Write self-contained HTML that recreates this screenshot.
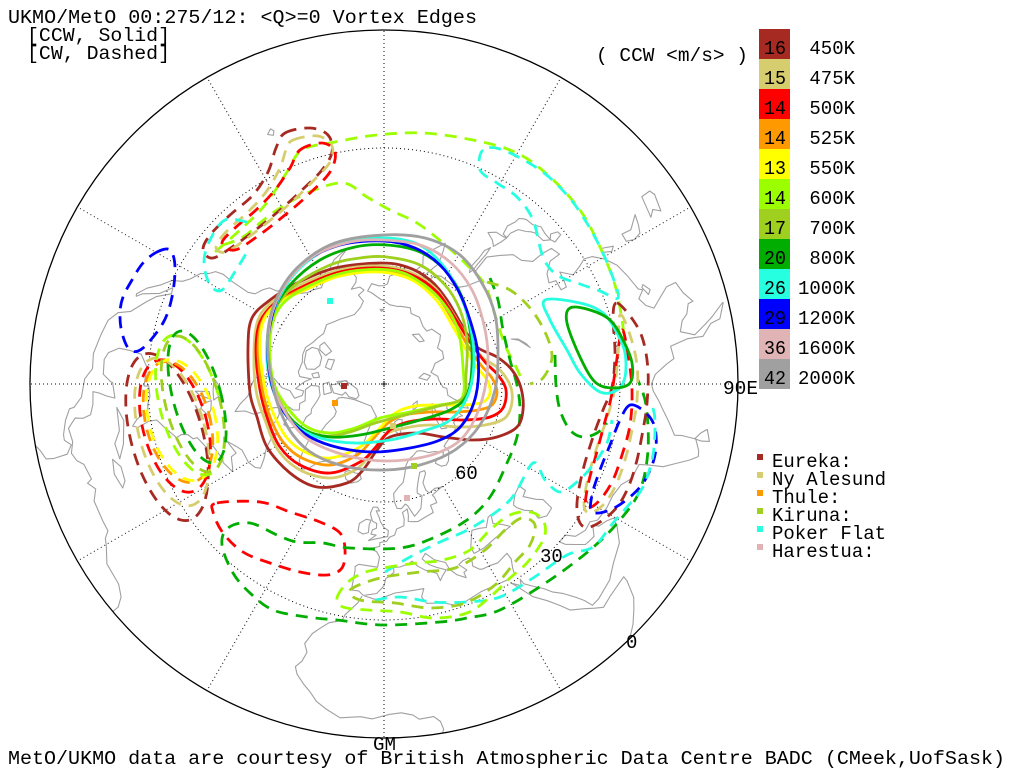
<!DOCTYPE html>
<html><head><meta charset="utf-8"><style>
html,body{margin:0;padding:0;background:#fff;width:1016px;height:768px;overflow:hidden}
svg{display:block}
text{font-family:"Liberation Mono","DejaVu Sans Mono",monospace;font-size:19px;fill:#000}
</style></head><body>
<svg id="s" width="1016" height="768" viewBox="0 0 1016 768" xmlns="http://www.w3.org/2000/svg">
<defs><clipPath id="cp"><circle cx="384" cy="384" r="354"/></clipPath></defs>
<rect width="1016" height="768" fill="#fff"/>
<g id="coast" clip-path="url(#cp)" fill="none" stroke="#a0a0a0" stroke-width="1.1" stroke-linejoin="round"></g>
<g id="grid" fill="none" stroke="#000" stroke-width="1" stroke-dasharray="1,3"></g>
<circle cx="384" cy="384" r="354" fill="none" stroke="#000" stroke-width="1.3"/>
<g id="cont" clip-path="url(#cp)" fill="none" stroke-width="2.8" stroke-linejoin="round" stroke-linecap="butt"></g>
<g id="stn"></g>
<path d="M381,384H387M384,381V387" stroke="#000" stroke-width="1"/>

<text x="8" y="23" textLength="469" lengthAdjust="spacingAndGlyphs">UKMO/MetO 00:275/12: &lt;Q&gt;=0 Vortex Edges</text>
<text x="27" y="41" textLength="143" lengthAdjust="spacingAndGlyphs">[CCW, Solid]</text>
<text x="27" y="59" textLength="143" lengthAdjust="spacingAndGlyphs">[CW, Dashed]</text>
<text x="596" y="61" textLength="152" lengthAdjust="spacingAndGlyphs" xml:space="preserve">( CCW &lt;m/s&gt; )</text>

<g id="leg"></g>

<text x="455" y="479">60</text>
<text x="540" y="562">30</text>
<text x="626" y="648">0</text>
<text x="723" y="394" textLength="35" lengthAdjust="spacingAndGlyphs">90E</text>
<text x="373" y="750" textLength="23" lengthAdjust="spacingAndGlyphs">GM</text>

<rect x="757" y="454" width="6" height="6" fill="#a62a22"/>
<rect x="757" y="472" width="6" height="6" fill="#d6cd6e"/>
<rect x="757" y="490" width="6" height="6" fill="#ff9900"/>
<rect x="757" y="508" width="6" height="6" fill="#9fcf1f"/>
<rect x="757" y="526" width="6" height="6" fill="#26ffe0"/>
<rect x="757" y="544" width="6" height="6" fill="#e0b4b4"/>
<text x="772" y="467">Eureka:</text>
<text x="772" y="485">Ny Alesund</text>
<text x="772" y="503">Thule:</text>
<text x="772" y="521">Kiruna:</text>
<text x="772" y="539">Poker Flat</text>
<text x="772" y="557">Harestua:</text>

<text x="8" y="764" textLength="997" lengthAdjust="spacingAndGlyphs">MetO/UKMO data are courtesy of British Atmospheric Data Centre BADC (CMeek,UofSask)</text>
</svg>
<script>
(function(){
var NS="http://www.w3.org/2000/svg";
var C=384,R=354;
function el(tag,attrs,parent){var e=document.createElementNS(NS,tag);for(var k in attrs)e.setAttribute(k,attrs[k]);parent.appendChild(e);return e;}
function proj(lon,lat){var r=R*(90-lat)/90,a=lon*Math.PI/180;return [C+r*Math.sin(a),C+r*Math.cos(a)];}
function lineLL(arr,closed){var d="";for(var i=0;i<arr.length;i++){var p=proj(arr[i][0],arr[i][1]);d+=(i?"L":"M")+p[0].toFixed(1)+","+p[1].toFixed(1);}if(closed)d+="Z";return d;}

var coast=[
[[-80,0],[-79,1],[-77.5,2],[-77.3,4],[-77.5,7.5],[-79,9],[-80,7.5],[-81,7.5],[-83.5,8.5],[-85.5,9.8],[-85.7,11],[-87.5,13],[-91,13.9],[-93,15.8],[-96,15.7],[-100,17],[-103,18],[-105,20],[-106,23],[-109,26],[-111,28],[-113,31.3],[-114.5,31],[-112,28.5],[-110.5,24.5],[-109.5,23.2],[-110,23],[-112,25],[-114,28],[-116,30],[-117,32.5],[-118.5,34],[-121,35.5],[-122.4,37.5],[-123.7,38.5],[-124.3,40.5],[-124,43],[-124,46],[-124,48.3],[-125,50],[-128,51],[-130,52],[-131,54],[-133,55],[-135,57],[-137,58.5],[-140,59.7],[-143,60],[-147,60.8],[-150,59.5],[-152,58],[-155,57.5],[-158,56],[-162,55],[-164.5,54.5],[-161,56],[-157.5,58.5],[-162,58.6],[-164,60.5],[-165.5,62],[-164.5,63.2],[-161,64.5],[-166,64.6],[-168,65.6],[-164,66.5],[-166,68.3],[-163,69.6],[-157,70.8],[-152,70.6],[-146,70.1],[-141,69.7],[-136,69],[-130,70],[-125,69.5],[-120,69],[-115,68],[-110,68],[-105,68.5],[-98,68],[-95,68.5],[-94,71.5],[-92,70],[-90,69],[-87,67.5],[-85,69.5],[-82,69],[-81,67],[-86,66],[-88,64],[-93,62],[-94,59],[-92.5,57],[-88,56],[-85,55.3],[-82,53],[-79.5,51.5],[-79,54],[-77,56],[-77,58],[-78,60.5],[-77.5,62.5],[-74,62.3],[-71,61],[-69.5,59],[-67,58.5],[-65,60],[-64,58],[-61.5,56],[-58,54],[-55.7,52],[-57,51],[-60,50.2],[-65,50.2],[-67,49.3],[-70,47.5],[-65,48.5],[-64.5,47],[-61,46],[-60,45.5],[-64,44.5],[-66,45],[-66.5,44.5],[-70,43.8],[-70.5,42],[-74,40.6],[-74,39.5],[-75.5,38.5],[-76,37],[-75.5,35.5],[-77,34.5],[-79,33],[-81,31.5],[-81,29.5],[-80,26.5],[-80.5,25.2],[-81.8,26.5],[-82.7,28],[-83,29.5],[-85,29.7],[-87,30.4],[-89.5,30.2],[-89.5,29],[-91,29.2],[-94,29.6],[-97,27.8],[-97.5,25],[-97.7,22],[-96.5,19.5],[-95,18.6],[-92,18.6],[-90.5,20.5],[-90.3,21],[-87,21.5],[-87.5,19.5],[-88.2,17.5],[-88.5,16],[-86,15.8],[-84,15],[-83.5,13],[-83.7,11],[-82,9],[-79.5,9.5],[-77.5,8.6],[-76,9.5],[-75,11],[-72,11.8],[-71.5,10.5],[-70,12],[-68,10.5],[-64,10.5],[-62,10.5],[-61,9],[-59.8,8.3],[-57,6],[-53,5.5],[-51,4],[-50,1.8],[-50,-1]],
[[-5.6,36],[-7,37],[-9,37],[-8.8,42],[-9,43],[-8,43.7],[-2,43.4],[-1.5,46],[-2.5,47.3],[-4.7,48],[-1.5,48.7],[-1.5,49.7],[1,50],[2,51],[4,51.5],[5,53],[8,53.6],[8.5,55.3],[8.2,57],[10.5,57.7],[10.5,56],[10,54.5],[12,54.2],[14,54],[18,54.7],[21,55],[21,57],[24,57],[24,58.5],[23.5,59.2],[29,60],[26,60.5],[22.5,60],[21.5,61],[21.5,63],[25,65],[25,65.7],[22,65.8],[19,63.5],[17.5,62],[17,61],[18.8,60],[16.5,57],[14.3,56],[13,55.5],[11,58.5],[10,59],[8,58],[6,58.2],[5,60],[5,62],[8,63.5],[11,64.5],[13,66.5],[15,68.5],[18,69.8],[22,70.3],[26,71],[29,70.6],[31,70],[33,69.2],[37,68.5],[41,67],[38.5,66],[34.5,66.5],[33,66],[35,64.5],[37.5,64],[40,64.5],[44,66.3],[44,68],[46,68.2],[53,68.5],[55,68.4],[59,68.7],[61,69.8],[66,69.3],[68,68.5],[69,70],[67,71.5],[69,73],[72,72.8],[72.5,71],[74,67.7],[76,68.5],[78,72],[80,73.5],[86,74],[87,75],[94,76],[98,76.2],[104,77.7],[107,77],[112,76],[113,73.5],[119,73],[124,73.6],[128,72],[131,71],[139,71.5],[141,72.7],[146,72.3],[152,70.8],[159,70.8],[161,69.5],[168,69.8],[170,70],[176,69.8],[180,68.8],[182,68.5],[188,66.5],[190,66],[187,64.3],[183,65],[180,65],[178,64.5],[177,62.5],[173,61.7],[170,60],[164,59.8],[162,58],[163,56],[160.5,54],[156.5,51],[156,53],[155.5,56.5],[156.6,57.5],[160,61],[157,61.7],[155,59.5],[152,59],[148,59.3],[143,59.3],[140,57.5],[137,54],[141,53],[141,48.5],[138,46],[135,43.5],[132,43],[129.5,41],[129.5,38],[129,35.2],[126.5,34.5],[126.5,37.5],[125,39],[124,40],[121.5,40.8],[121,39],[118,39],[118,37.5],[120,37.2],[122.5,37],[120,34.5],[121,32],[122,30],[121.5,28],[119.5,25.5],[117,23.5],[114,22.3],[110.5,21],[110,20],[108.5,21.7],[106.7,20.5],[105.7,18.7],[107,17],[109,14],[109.2,11.5],[107,10.5],[105,8.7],[104.8,10],[103,11],[102,12.5],[100,13.5],[99,10],[100.5,7],[101.5,5],[103.5,1.5],[103.5,1.3],[101,3],[100.5,5.5],[98.5,8],[98.5,12],[97.5,16.5],[95,16],[94,18],[92,21],[90,22],[88.5,21.5],[86.5,20],[85,19],[82.5,17],[80,15],[80.2,13],[80,9.5],[78,8.2],[77,8],[76,10],[74.8,13],[73.5,16],[73,19.5],[72.7,21],[72.5,22],[70,22.5],[69,22.7],[67,24.5],[64,25.3],[61,25.2],[57.5,25.6],[56.2,27],[54,26.7],[51.5,27.8],[50.2,30],[48,30],[48.5,28.5],[50,26.5],[51.5,24.5],[54,24],[56,26],[56.5,24.5],[58.5,23.5],[59.8,22.3],[58.5,20.5],[56,17.8],[52,16],[49,14],[45,12.8],[43.3,12.7],[42.8,15],[42,17],[40.5,20],[39,22],[38,24],[36.5,26],[35,28],[34.9,29.5],[34.2,28],[32.6,29.9]],
[[-5.6,36],[-2,36.7],[0,38.7],[0.5,40.5],[3,42],[3,43.3],[5,43.3],[7.5,43.8],[9,44.4],[10.5,42.9],[12.5,41.5],[15.6,40],[16,38],[17,39],[18.5,40.2],[16,41.5],[14,42.7],[12.3,44.5],[13.7,45.7],[14.5,45],[16,43.5],[19,42],[19.5,40],[21,38],[23,36.5],[23,38],[24,38.2],[22.5,40.3],[24,40.8],[26,40.8],[26.5,40],[26,38.5],[27.3,37],[28,36.7],[30.5,36.5],[32.5,36.1],[36,36.8],[36,35],[35,33],[34.5,31.5],[32.5,31.1],[30,31.4],[25,31.7],[20,30.8],[19,30.3],[15.2,32.3],[11,33.2],[10,35],[11,37],[8,37],[3,36.8],[0,35.8],[-2,35.1],[-5.3,35.9]],
[[28,41.2],[28,43],[29.8,45.3],[31,46.6],[33.5,46],[35.5,45.2],[38,47],[39.3,47.1],[38,45],[40,43.4],[41.6,41.6],[36,41.7],[31.5,41.2],[29,41.2],[28,41.2]],
[[47,45],[50,46.5],[53,47],[53,45],[51,44.5],[52.8,41.5],[54,40],[53.5,37],[51,36.7],[49,38],[49.5,40.4],[48,42],[47,44],[47,45]],
[[32.6,29.9],[33.5,28],[35,24],[37,21],[38.5,18],[39.5,15.5],[41.7,13.5],[43.2,11.8],[44.5,10.4],[47,11.2],[51.2,11.8],[51,10.5],[49.5,6.5],[48,4.5],[46,2],[43,-1]],
[[-5.9,35.8],[-6.8,34],[-9.6,30.5],[-10,29],[-13,27.7],[-14.5,26],[-16,24],[-17,21],[-16,19],[-16.5,16.5],[-17.4,14.7],[-16.7,13],[-15,11],[-13.5,9.5],[-12,7.5],[-10,6],[-7.5,4.4],[-4,5.2],[-2,4.8],[1,6],[3,6.3],[5,5.5],[6,4.3],[8.5,4.5],[9.5,3],[9.8,1],[9.3,-1]]
];
var closedC=[
[[-73,78],[-70,76.5],[-66,76],[-60,76],[-57,75],[-55,72],[-53,70],[-51,68],[-53,66],[-50,63],[-48,61],[-44,60],[-42,61],[-40,64],[-37,65.5],[-33,68],[-25,69.5],[-22,70.5],[-22,72.5],[-19,74],[-19,77],[-18,80],[-13,81.5],[-20,82.5],[-30,83.5],[-45,83],[-58,82],[-62,81.5],[-67,80.5],[-72,79]],
[[-80,73.5],[-76,72.5],[-71,70.5],[-68,70],[-67,68.5],[-63,66.5],[-62,66],[-64,65],[-65,63.5],[-68,62.5],[-72,64.5],[-76,64.2],[-78,64.5],[-74,66],[-73,67.5],[-77,68],[-78,69.5],[-82,69.8],[-86,70],[-89,71.5],[-88,73.5],[-85,73.5]],
[[-78,80],[-75,79],[-80,77],[-89,76.5],[-90,78],[-95,80],[-90,81.5],[-80,83],[-65,83],[-62,82],[-70,80.5]],
[[-118,71],[-113,72.8],[-106,73],[-102,72],[-101,70],[-105,69],[-113,68.5],[-117,69.5]],
[[-125,71.5],[-122,74.3],[-116,73.5],[-118,71.5],[-121,71]],
[[-92,76],[-81,76.5],[-80,74.5],[-90,74.5]],
[[-95,80.5],[-88,81],[-87,79],[-93,78]],
[[-116,76],[-105,76],[-106,74.5],[-114,74.5]],
[[-100,73],[-96,73.5],[-95,72],[-98,71.5]],
[[-22,64],[-24,65.5],[-22,66.3],[-18,66.2],[-15,66.4],[-13.5,65.2],[-15,64.3],[-18.5,63.4]],
[[-5.7,50],[-3,50.6],[1.4,51.2],[1.7,52.7],[0,53.5],[-1.5,55],[-2,56],[-3.5,57.7],[-2,57.7],[-3,58.6],[-5,58.6],[-6,57],[-5.5,56],[-4.8,55],[-3,54.5],[-3,53.3],[-4.5,52.8],[-5,51.7],[-3,51.5]],
[[-6,52],[-6,54],[-5.5,55.2],[-7.5,55.3],[-10,54],[-10,52],[-8,51.5]],
[[80,6],[82,7],[81.2,8.5],[80,9.8],[79.8,8]],
[[130.9,34],[132,35.5],[135,35.7],[136,36.2],[137,37],[139,38],[140,40],[140,41.4],[141.5,41.3],[142,39],[141,37],[140.8,35.7],[139.8,35],[139,34.7],[137,34.6],[135,33.5],[133,34]],
[[140,41.5],[140.5,43.2],[141.5,45.3],[143,44.2],[145.5,43.3],[143.5,42],[141,41.8]],
[[129.7,33.5],[131,34],[132,33],[131.2,31.3],[130.2,31.2]],
[[142,46],[143,47.5],[143,50],[143.5,53],[142.5,54.3],[142,53],[142,51],[141.8,48]],
[[120.2,23],[121,25],[122,25],[121,22]],
[[108.7,19],[110.5,20],[111,19.5],[109.5,18.2]],
[[120,16.5],[120.5,18.5],[122.2,18.5],[122,16],[124,13],[122,13.7],[120.5,14.5]],
[[122,10],[126,9],[126,6.5],[125,6],[122,7],[123,8.5]],
[[-85,21.8],[-82,23.2],[-77,22],[-74.2,20.2],[-77.5,19.9],[-80,21.7]],
[[-74.5,18.4],[-72.5,19.9],[-69.5,19.7],[-68.3,18.5],[-71.5,17.7]],
[[11,78.5],[16,80],[22,80.3],[27,79.8],[22,78],[17,76.5],[14,77.5]],
[[52,71.5],[55,73.5],[58,75.5],[68,76.8],[62,75],[57,72],[55,70.5]],
[[95,79],[100,81],[105,79.5],[100,78]],
[[137,75],[140,76],[150,75.5],[145,74.5]],
[[48,80],[55,81],[63,80.5],[55,79.8]],
[[-92,46.7],[-89.5,48],[-86.5,48.7],[-84.6,46.5],[-87.5,46.5]],
[[-87.8,42],[-87.5,45.5],[-85,45.8],[-86.5,43]],
[[-84.5,45.9],[-81.5,45.5],[-80,44.5],[-82.5,43],[-84,44]],
[[-83.5,41.7],[-79,42.8],[-80,42.5],[-83,42]],
[[104,51.7],[106,52.5],[108.5,54],[109.5,55.7],[108,54],[105,52.3]],
[[-156,19],[-155,20],[-156,20.8],[-156.5,19.8]],
[[-178,71.5],[-177,71],[180,71]]
];
var cg=document.getElementById("coast");
coast.forEach(function(a){el("path",{d:lineLL(a,false)},cg);});
closedC.forEach(function(a){el("path",{d:lineLL(a,true)},cg);});

// grid
var g=document.getElementById("grid");
el("circle",{cx:C,cy:C,r:118},g);
el("circle",{cx:C,cy:C,r:236},g);
for(var lon=0;lon<360;lon+=30){
  var a=lon*Math.PI/180, r0=(lon%90==0)?0:118;
  el("line",{x1:C+r0*Math.sin(a),y1:C+r0*Math.cos(a),x2:C+R*Math.sin(a),y2:C+R*Math.cos(a)},g);
}

// smoothing
function cr(p,closed){
  var n=p.length,d="M"+p[0][0].toFixed(1)+","+p[0][1].toFixed(1);
  function get(i){return closed?p[(i+n)%n]:p[Math.max(0,Math.min(n-1,i))];}
  var m=closed?n:n-1;
  for(var i=0;i<m;i++){
    var p0=get(i-1),p1=get(i),p2=get(i+1),p3=get(i+2);
    var c1=[p1[0]+(p2[0]-p0[0])/6,p1[1]+(p2[1]-p0[1])/6];
    var c2=[p2[0]-(p3[0]-p1[0])/6,p2[1]-(p3[1]-p1[1])/6];
    d+="C"+c1[0].toFixed(1)+","+c1[1].toFixed(1)+" "+c2[0].toFixed(1)+","+c2[1].toFixed(1)+" "+p2[0].toFixed(1)+","+p2[1].toFixed(1);
  }
  if(closed)d+="Z";
  return d;
}
function ell(cx,cy,rx,ry,t){var a=t*Math.PI/180,pts=[];for(var i=0;i<18;i++){var u=2*Math.PI*i/18,x=rx*Math.cos(u),y=ry*Math.sin(u);pts.push([cx+x*Math.cos(a)-y*Math.sin(a),cy+x*Math.sin(a)+y*Math.cos(a)]);}return pts;}

var K={b:"#a62a22",t:"#d6cd6e",r:"#ff0000",o:"#ff9900",y:"#ffff00",lg:"#9cff00",ol:"#9fcf1f",g:"#00ad00",c:"#26ffe0",bl:"#0000ff",p:"#e0b4b4",gr:"#a0a0a0"};
var cont=document.getElementById("cont");
function add(col,pts,closed,dashed){var at={d:cr(pts,closed),stroke:col};if(dashed)at["stroke-dasharray"]="12,8";el("path",at,cont);}

// ---- dashed contours ----
// top-left loops
add(K.lg,[[215,252],[240,230],[265,205],[287,172],[302,150],[335,142],[377,135],[423,133],[473,140],[517,153],[550,177],[580,210],[600,247],[615,285],[622,320],[625,345]],false,true);
add(K.lg,[[223,245],[243,237],[260,223],[277,210],[307,193],[343,183],[367,197],[390,210],[417,223],[443,243],[467,265],[485,285],[495,315],[505,345],[515,365],[523,382]],false,true);
add(K.b,[[285,133],[310,128],[328,135],[332,152],[322,170],[302,190],[280,210],[258,228],[235,245],[213,258],[203,250],[210,235],[230,215],[253,195],[268,172],[276,148]],true,true);
add(K.t,[[293,140],[318,136],[332,146],[330,162],[316,178],[296,198],[273,218],[250,236],[226,252],[216,247],[226,232],[248,212],[266,192],[280,168],[286,150]],true,true);
add(K.r,[[300,150],[322,143],[335,152],[330,172],[308,195],[285,215],[258,236],[235,250],[222,243],[235,228],[256,210],[275,190],[290,168]],true,true);
add(K.c,[[247,222],[225,220],[210,240],[204,262],[210,285],[222,290],[236,270],[247,252]],false,true);
// top-right cyan
add(K.c,[[483,150],[480,170],[497,183],[517,197],[533,220],[543,257],[557,275],[580,284],[600,291],[618,298],[612,275],[600,247],[585,220],[567,195],[540,170],[503,150]],true,true);
// left blue loop
add(K.bl,[[157,252],[170,250],[175,267],[172,297],[163,323],[143,348],[130,350],[122,333],[120,313],[123,297],[132,280],[143,263]],true,true);
// left nested group
[[K.b,167,437,36,86],[K.t,172,432,33,76],[K.r,175,426,32,68],[K.o,178,422,32,62],[K.y,182,420,33,62],[K.lg,190,405,30,72],[K.ol,193,404,27,70],[K.g,197,397,24,68]].forEach(function(q){add(q[0],ell(q[1],q[2],q[3],q[4],-15),true,true);});
// bottom-left red loop
add(K.r,[[217,503],[260,502],[290,512],[320,522],[340,533],[345,550],[342,568],[327,575],[300,572],[270,563],[243,552],[223,533],[213,512]],true,true);
// long green dashed
add(K.g,[[490,278],[498,300],[503,330],[510,360],[517,385],[520,410],[517,437],[507,463],[490,497],[467,520],[433,538],[400,548],[350,548],[323,543],[297,542],[277,535],[250,523],[228,528],[222,545],[233,573],[250,593],[273,610],[307,617],[337,620],[383,625],[440,622],[467,618],[500,610],[547,582],[590,550],[620,520],[640,490],[648,450],[646,405],[638,380]],false,true);
add(K.g,[[555,355],[556,385],[560,410],[570,430],[583,437],[597,433],[607,423]],false,true);
// right-middle olive / lightgreen
add(K.ol,[[487,282],[510,290],[530,308],[545,332],[552,357],[543,378],[530,384]],false,true);
// right group
add(K.b,[[617,303],[633,320],[643,340],[648,370],[647,403],[643,430],[637,460],[630,483],[620,503],[607,517],[590,527],[580,523],[577,503],[583,470],[593,437],[603,410],[612,387],[615,353],[613,317]],true,true);
add(K.t,[[620,315],[630,335],[637,365],[637,400],[632,430],[625,460],[615,487],[603,505],[590,513],[584,505],[588,478],[597,447],[607,418],[614,392],[618,355]],true,true);
add(K.r,[[622,330],[628,355],[632,390],[630,425],[622,455],[612,482],[598,502],[586,507],[588,485],[596,455],[604,425],[611,398],[616,365]],true,true);
add(K.bl,[[630,405],[645,412],[655,428],[655,455],[645,480],[630,497],[610,510],[592,512],[592,495],[600,470],[610,445],[620,420]],true,true);
// cyan bottom arcs
add(K.c,[[385,572],[410,557],[440,542],[473,527],[510,500],[533,463],[545,480],[560,492],[577,482],[593,465],[607,443],[612,420]],false,true);
add(K.c,[[375,600],[400,597],[433,602],[467,602],[500,597],[533,578],[567,555],[593,547],[613,523],[627,507],[643,487],[653,455],[655,420],[652,405]],false,true);
// bottom light green / olive loops
add(K.lg,[[337,598],[347,583],[363,573],[383,568],[417,563],[443,560],[470,550],[490,530],[510,515],[530,512],[543,520],[545,535],[537,550],[525,565],[510,578],[490,597],[467,613],[433,618],[400,612],[367,610],[343,607]],true,true);
add(K.ol,[[350,590],[380,578],[420,572],[455,568],[485,550],[505,530],[522,518],[535,525],[530,545],[515,562],[495,585],[465,603],[430,608],[395,603],[360,600]],true,true);

// ---- solid contours ----
add(K.c,[[545,300],[580,303],[603,313],[617,333],[625,353],[625,377],[617,390],[600,392],[580,373],[567,350],[550,320]],true,false);
add(K.g,[[570,308],[590,310],[610,320],[623,340],[632,363],[630,383],[613,388],[595,382],[580,357],[567,323]],true,false);

var vortex=[
[K.b,[[380,263],[407,267],[430,280],[447,300],[463,327],[477,347],[497,357],[512,370],[521,388],[523,410],[517,427],[497,437],[473,440],[443,437],[417,433],[390,437],[377,450],[363,470],[347,483],[317,487],[290,473],[267,447],[257,417],[250,393],[248,347],[252,318],[270,300],[297,283],[335,268]]],
[K.t,[[380,266],[410,272],[435,288],[452,312],[466,335],[482,357],[498,368],[510,385],[512,402],[505,418],[485,425],[460,427],[430,425],[405,428],[385,435],[370,455],[355,470],[330,478],[300,470],[278,450],[265,420],[256,390],[254,350],[258,320],[272,302],[300,285],[340,270]]],
[K.r,[[380,268],[412,275],[437,292],[455,318],[470,342],[485,362],[498,375],[506,390],[503,408],[490,417],[465,420],[435,419],[408,422],[390,430],[375,448],[360,462],[330,473],[300,465],[280,447],[268,420],[260,390],[256,350],[260,322],[275,303],[302,287],[340,272]]],
[K.o,[[380,270],[412,278],[437,296],[454,322],[468,346],[480,364],[492,378],[497,392],[492,405],[478,410],[455,412],[430,412],[405,415],[388,423],[372,440],[357,455],[330,465],[302,458],[283,442],[270,417],[262,388],[258,350],[262,322],[277,303],[304,288],[340,274]]],
[K.y,[[380,272],[412,280],[436,300],[452,325],[465,348],[476,366],[487,380],[490,393],[483,402],[465,405],[440,405],[415,406],[395,413],[378,430],[360,447],[330,458],[305,452],[287,438],[274,415],[265,388],[260,350],[263,322],[278,303],[305,290],[340,276]]],
[K.lg,[[390,270],[417,280],[443,303],[458,330],[463,367],[462,398],[440,405],[410,412],[380,418],[355,428],[330,433],[307,427],[287,407],[273,380],[270,337],[280,307],[307,287],[347,272]]],
[K.ol,[[387,257],[420,265],[445,285],[460,310],[467,340],[466,375],[463,398],[435,407],[405,415],[375,423],[350,432],[325,436],[300,428],[283,407],[272,380],[268,345],[275,310],[295,285],[330,265],[360,258]]],
[K.g,[[387,245],[420,252],[445,270],[462,297],[470,330],[472,365],[467,395],[450,410],[420,420],[390,428],[360,435],[330,437],[305,430],[285,412],[272,385],[267,350],[272,315],[290,285],[320,260],[355,247]]],
[K.c,[[375,238],[415,243],[440,262],[458,290],[470,325],[474,360],[468,395],[450,420],[420,432],[390,440],[355,443],[320,438],[295,425],[278,402],[268,370],[268,335],[278,300],[300,268],[335,245]]],
[K.bl,[[383,241],[415,248],[440,265],[458,290],[470,320],[478,355],[476,395],[462,425],[440,440],[410,448],[375,452],[340,448],[310,437],[290,420],[275,395],[268,360],[270,325],[282,290],[305,262],[340,245]]],
[K.p,[[383,240],[420,245],[450,262],[472,290],[484,325],[488,360],[482,400],[465,435],[440,452],[405,460],[370,460],[335,452],[305,437],[285,412],[272,382],[268,345],[273,310],[290,278],[315,255],[350,242]]],
[K.gr,[[383,235],[425,238],[460,255],[483,285],[495,315],[498,350],[495,390],[480,425],[455,450],[420,465],[385,470],[348,467],[315,455],[293,435],[278,405],[270,370],[268,330],[278,295],[300,265],[335,243]]]
];
vortex.forEach(function(v){add(v[0],v[1],true,false);});

// stations
var st=document.getElementById("stn");
[[344,386,K.b],[393,426,K.t],[335,403,K.o],[414,466,K.ol],[330,301,K.c],[407,498,K.p]].forEach(function(s){el("rect",{x:s[0]-3,y:s[1]-3,width:6,height:6,fill:s[2]},st);});

// legend boxes
var lg=document.getElementById("leg");
var L=[["16","450K",K.b],["15","475K",K.t],["14","500K",K.r],["14","525K",K.o],["13","550K",K.y],["14","600K",K.lg],["17","700K",K.ol],["20","800K",K.g],["26","1000K",K.c],["29","1200K",K.bl],["36","1600K",K.p],["42","2000K",K.gr]];
L.forEach(function(l,i){
  var y=29+i*30;
  el("rect",{x:759,y:y,width:31,height:30,fill:l[2]},lg);
  var t1=el("text",{x:764,y:y+25,textLength:22,lengthAdjust:"spacingAndGlyphs"},lg);t1.textContent=l[0];
  var t2=el("text",{x:855,y:y+25,"text-anchor":"end"},lg);t2.textContent=l[1];
});
})();
</script>
</body></html>
